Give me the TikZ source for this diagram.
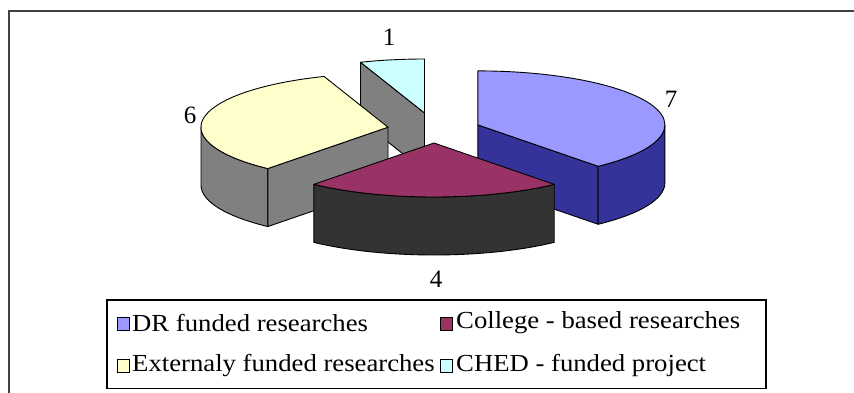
\documentclass[tikz,border=0pt]{standalone}
\usepackage{fontspec}
\setmainfont{Liberation Serif}
\newfontfamily\legfont[FakeStretch=1.09]{Liberation Serif}
\definecolor{drtop}{HTML}{9999FF}
\definecolor{drside}{HTML}{333399}
\definecolor{coltop}{HTML}{993366}
\definecolor{colside}{HTML}{333333}
\definecolor{exttop}{HTML}{FFFFCC}
\definecolor{extside}{HTML}{808080}
\definecolor{chedtop}{HTML}{CCFFFF}
\definecolor{chedside}{HTML}{808080}
\begin{document}
\begin{tikzpicture}[x=1pt,y=1pt,
  face/.style={draw=black, line width=0.9pt, line join=round},
  ell/.style={x radius=187pt, y radius=54pt},
  keybox/.style={draw=black, line width=0.9pt, minimum width=12pt, minimum height=13pt, inner sep=0pt},
  legtext/.style={anchor=west, inner sep=0pt, font=\legfont\fontsize{24.5}{26}\selectfont},
  vallabel/.style={inner sep=0pt, font=\fontsize{25}{27}\selectfont}]
\useasboundingbox (0,0) rectangle (854,392);
% outer frame
\draw[line width=2.4pt, draw=black!75] (9,-10) -- (9,381) -- (870,381);
% slice apexes
\coordinate (ched) at (424.5,279);
\coordinate (ext) at (388,264.8);
\coordinate (dr) at (477.9,267.1);
\coordinate (col) at (434,249);
% CHED slice (90..110)
\draw[face, fill=chedside] (ched) -- ++(110:187pt and 54pt) -- ++(0,-58) -- ([yshift=-58pt]ched) -- cycle;
\draw[face, fill=chedtop] (ched) -- ++(90:187pt and 54pt) arc[ell, start angle=90, end angle=110] -- cycle;
% External slice (110..230)
\draw[face, fill=extside] (ext) ++(180:187pt and 54pt) arc[ell, start angle=180, end angle=230] -- ++(0,-58) arc[ell, start angle=230, end angle=180] -- cycle;
\draw[face, fill=extside] (ext) -- ++(230:187pt and 54pt) -- ++(0,-58) -- ([yshift=-58pt]ext) -- cycle;
\draw[face, fill=exttop] (ext) -- ++(110:187pt and 54pt) arc[ell, start angle=110, end angle=230] -- cycle;
% DR slice (-50..90)
\draw[face, fill=drside] (dr) -- ++(-50:187pt and 54pt) -- ++(0,-58) -- ([yshift=-58pt]dr) -- cycle;
\draw[face, fill=drside] (dr) ++(-50:187pt and 54pt) arc[ell, start angle=-50, end angle=0] -- ++(0,-58) arc[ell, start angle=0, end angle=-50] -- cycle;
\draw[face, fill=drtop] (dr) -- ++(-50:187pt and 54pt) arc[ell, start angle=-50, end angle=90] -- cycle;
% College slice (230..310)
\draw[face, fill=colside] (col) ++(230:187pt and 54pt) arc[ell, start angle=230, end angle=310] -- ++(0,-58) arc[ell, start angle=310, end angle=230] -- cycle;
\draw[face, fill=coltop] (col) -- ++(230:187pt and 54pt) arc[ell, start angle=230, end angle=310] -- cycle;
% value labels
\node[vallabel] (v1) at (389,355) {1};
\node[vallabel] (v6) at (190,277) {6};
\node[vallabel] (v7) at (671,293) {7};
\node[vallabel] (v4) at (436,113) {4};
% legend
\draw[line width=1.3pt] (107,3.5) rectangle (766,92);
\node[keybox, fill=drtop] (k1) at (123,68.5) {};
\node[legtext] (t1) at (132,69) {DR funded researches};
\node[keybox, fill=coltop] (k2) at (446.5,68.5) {};
\node[legtext] (t2) at (456,69) {College - based researches};
\node[keybox, fill=exttop] (k3) at (123,26) {};
\node[legtext] (t3) at (132,26.5) {Externaly funded researches};
\node[keybox, fill=chedtop] (k4) at (446.5,26) {};
\node[legtext] (t4) at (456,26.5) {CHED - funded project};
\end{tikzpicture}
\end{document}
